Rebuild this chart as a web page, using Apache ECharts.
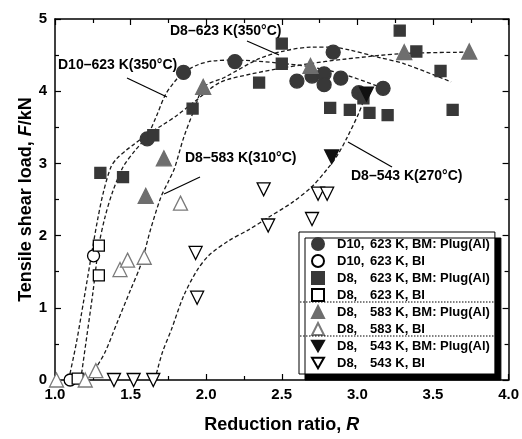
<!DOCTYPE html>
<html>
<head>
<meta charset="utf-8">
<script src="https://cdn.jsdelivr.net/npm/echarts@6/dist/echarts.min.js"></script>
<style>
  html, body { margin: 0; padding: 0; background: #fff; }
  #main { width: 522px; height: 439px; }
</style>
</head>
<body>
<div id="main"></div>
<script>
// measured points [R, F]
const d10BM = [[1.61,3.34],[1.85,4.26],[2.19,4.41],[2.60,4.14],[2.70,4.21],[2.78,4.24],[2.78,4.09],[2.84,4.54],[2.89,4.18],[3.01,3.98],[3.17,4.04]];
const d10BI = [[1.10,0],[1.255,1.72]];
const d8_623BM = [[1.30,2.87],[1.45,2.81],[1.65,3.39],[1.91,3.76],[2.35,4.12],[2.50,4.66],[2.50,4.38],[2.82,3.77],[2.95,3.74],[3.04,3.90],[3.08,3.70],[3.20,3.67],[3.28,4.84],[3.39,4.55],[3.55,4.28],[3.63,3.74]];
const d8_623BI = [[1.15,0.02],[1.29,1.86],[1.29,1.45]];
const d8_583BM = [[1.60,2.55],[1.72,3.07],[1.98,4.06],[2.69,4.35],[3.31,4.54],[3.74,4.55]];
const d8_583BI = [[1.01,0],[1.20,0],[1.27,0.13],[1.43,1.53],[1.48,1.66],[1.59,1.70],[1.83,2.45]];
const d8_543BM = [[2.83,3.09],[3.06,3.96]];
const d8_543BI = [[1.39,0],[1.52,0],[1.65,0],[1.93,1.76],[1.94,1.14],[2.38,2.64],[2.41,2.14],[2.70,2.23],[2.74,2.58],[2.80,2.58]];

// dashed guide curves
const curveKnee = [[1.09,0],[1.14,0.5],[1.19,1.1],[1.24,1.72],[1.28,2.2],[1.32,2.6],[1.37,2.95],[1.41,3.07],[1.47,3.18],[1.52,3.26],[1.61,3.40],[1.71,3.53],[1.81,3.67],[1.92,3.85],[2.09,4.12],[2.30,4.24],[2.50,4.32],[2.68,4.38],[2.90,4.44],[3.29,4.52],[3.71,4.54]];
const curveD10 = [[1.17,0],[1.21,0.6],[1.25,1.2],[1.29,1.86],[1.33,2.25],[1.38,2.6],[1.45,2.95],[1.53,3.18],[1.61,3.38],[1.67,3.65],[1.73,3.95],[1.79,4.13],[1.85,4.26],[1.95,4.37],[2.05,4.42],[2.20,4.43],[2.48,4.39],[2.68,4.34],[2.90,4.24],[3.16,4.05]];
const curve583 = [[1.26,0.13],[1.33,0.38],[1.41,0.79],[1.50,1.25],[1.57,1.61],[1.63,2.07],[1.70,2.53],[1.75,2.75],[1.79,2.93],[1.85,3.35],[1.92,3.74],[1.985,4.06],[2.12,4.19],[2.35,4.45],[2.52,4.56],[2.70,4.61],[2.83,4.61],[2.95,4.57],[3.14,4.47],[3.31,4.38],[3.62,4.13]];
const curve543 = [[1.66,0],[1.71,0.38],[1.77,0.70],[1.85,1.16],[1.94,1.52],[2.02,1.73],[2.15,1.93],[2.28,2.08],[2.41,2.25],[2.57,2.46],[2.70,2.68],[2.80,2.92],[2.87,3.12],[2.93,3.35],[3.01,3.70],[3.06,3.98]];

const xTicks = ['1.0','1.5','2.0','2.5','3.0','3.5','4.0'];
const yTicks = ['0','1','2','3','4','5'];

const FONT = 'Liberation Sans';
const INV_TRI = 'path://M0,0 L10,0 L5,8.66 Z';

function pointSeries(name, data, symbol, size, fill, stroke) {
  return {
    name: name,
    type: 'scatter',
    data: data,
    symbol: symbol,
    symbolSize: size,
    z: 5,
    itemStyle: { color: fill, borderColor: stroke, borderWidth: 1.3, opacity: 1 }
  };
}

function curveSeries(data) {
  return {
    type: 'line',
    data: data,
    smooth: 0.3,
    showSymbol: false,
    silent: true,
    z: 3,
    lineStyle: { color: '#1a1a1a', width: 1.3, type: [4, 2.5] }
  };
}

const chart = echarts.init(document.getElementById('main'), null, { renderer: 'canvas' });

const tickStyle = { inside: true, length: 6, lineStyle: { color: '#000', width: 1.2 } };
const minorStyle = { show: true, splitNumber: 2, length: 4, lineStyle: { color: '#000', width: 1.2 } };
const annFont = 'bold 14px "Liberation Sans"';

const option = {
  backgroundColor: '#fff',
  animation: false,
  grid: { left: 55, right: 11, top: 19, bottom: 54 },
  xAxis: [{
    type: 'value', min: 1, max: 4, interval: 0.5,
    name: 'Reduction ratio, {i|R}', nameLocation: 'middle', nameGap: 36, nameMoveOverlap: false,
    nameTextStyle: { fontFamily: FONT, fontWeight: 'bold', fontSize: 18, color: '#000',
      rich: { i: { fontFamily: FONT, fontWeight: 'bold', fontStyle: 'italic', fontSize: 18, color: '#000' } } },
    axisLine: { show: true, onZero: false, lineStyle: { color: '#000', width: 1.5 } },
    axisTick: tickStyle, minorTick: minorStyle,
    splitLine: { show: false },
    axisLabel: { margin: 7, fontFamily: FONT, fontWeight: 'bold', fontSize: 15, color: '#000',
      formatter: function (v) { return xTicks[Math.round((v - 1) / 0.5)]; } }
  }, {
    type: 'value', min: 1, max: 4, interval: 0.5, position: 'top',
    axisLine: { show: true, onZero: false, lineStyle: { color: '#000', width: 1.5 } },
    axisTick: tickStyle, minorTick: minorStyle,
    splitLine: { show: false }, axisLabel: { show: false }
  }],
  yAxis: [{
    type: 'value', min: 0, max: 5, interval: 1,
    name: '{n|Tensile shear load, }{i|F}{n|/kN}', nameLocation: 'middle', nameGap: 20, nameRotate: 90, nameMoveOverlap: false,
    nameTextStyle: {
      rich: {
        n: { fontFamily: FONT, fontWeight: 'bold', fontSize: 18, color: '#000' },
        i: { fontFamily: FONT, fontWeight: 'bold', fontStyle: 'italic', fontSize: 18, color: '#000' }
      }
    },
    axisLine: { show: true, onZero: false, lineStyle: { color: '#000', width: 1.5 } },
    axisTick: tickStyle, minorTick: minorStyle,
    splitLine: { show: false },
    axisLabel: { margin: 8, fontFamily: FONT, fontWeight: 'bold', fontSize: 15, color: '#000',
      formatter: function (v) { return yTicks[Math.round(v)]; } }
  }, {
    type: 'value', min: 0, max: 5, interval: 1, position: 'right',
    axisLine: { show: true, onZero: false, lineStyle: { color: '#000', width: 1.5 } },
    axisTick: tickStyle, minorTick: minorStyle,
    splitLine: { show: false }, axisLabel: { show: false }
  }],
  legend: {
    orient: 'vertical',
    left: 299, top: 232,
    padding: [5, 5, 4, 12],
    itemWidth: 12, itemHeight: 12, itemGap: 3,
    backgroundColor: '#fff',
    borderColor: '#000', borderWidth: 1,
    shadowColor: '#000', shadowBlur: 0, shadowOffsetX: 6, shadowOffsetY: 6,
    selectedMode: false,
    textStyle: {
      fontFamily: FONT, fontWeight: 'bold', fontSize: 13, color: '#000', lineHeight: 14,
      rich: {
        a: { width: 33, padding: [0, 0, 0, 8], fontFamily: FONT, fontWeight: 'bold', fontSize: 13, color: '#000', lineHeight: 14 },
        b: { fontFamily: FONT, fontWeight: 'bold', fontSize: 13, color: '#000', lineHeight: 14 }
      }
    },
    formatter: function (name) {
      const k = name.indexOf(', ');
      return '{a|' + name.slice(0, k + 1) + '}{b|' + name.slice(k + 2) + '}';
    },
    data: ['D10, 623 K, BM: Plug(Al)', 'D10, 623 K, BI', 'D8, 623 K, BM: Plug(Al)', 'D8, 623 K, BI',
           'D8, 583 K, BM: Plug(Al)', 'D8, 583 K, BI', 'D8, 543 K, BM: Plug(Al)', 'D8, 543 K, BI']
  },
  graphic: [
    { type: 'line', z: 100, shape: { x1: 300, y1: 302, x2: 500, y2: 302 }, style: { stroke: '#000', lineWidth: 1, lineDash: [1.5, 1.5] } },
    { type: 'line', z: 100, shape: { x1: 300, y1: 336, x2: 500, y2: 336 }, style: { stroke: '#000', lineWidth: 1, lineDash: [1.5, 1.5] } },
    // annotation labels and leaders
    { type: 'text', z: 100, left: 58, top: 58, style: { text: 'D10\u2013623 K(350\u00b0C)', font: annFont, fill: '#000' } },
    { type: 'line', z: 100, shape: { x1: 127, y1: 78, x2: 167, y2: 97 }, style: { stroke: '#000', lineWidth: 1.2 } },
    { type: 'text', z: 100, left: 170, top: 24, style: { text: 'D8\u2013623 K(350\u00b0C)', font: annFont, fill: '#000' } },
    { type: 'line', z: 100, shape: { x1: 247, y1: 41, x2: 279, y2: 55 }, style: { stroke: '#000', lineWidth: 1.2 } },
    { type: 'text', z: 100, left: 185, top: 151, style: { text: 'D8\u2013583 K(310\u00b0C)', font: annFont, fill: '#000' } },
    { type: 'line', z: 100, shape: { x1: 200, y1: 177, x2: 164, y2: 194 }, style: { stroke: '#000', lineWidth: 1.2 } },
    { type: 'text', z: 100, left: 351, top: 169, style: { text: 'D8\u2013543 K(270\u00b0C)', font: annFont, fill: '#000' } },
    { type: 'line', z: 100, shape: { x1: 348, y1: 142, x2: 392, y2: 167 }, style: { stroke: '#000', lineWidth: 1.2 } }
  ],
  series: [
    curveSeries(curveKnee),
    curveSeries(curveD10),
    curveSeries(curve583),
    curveSeries(curve543),
    pointSeries('D10, 623 K, BM: Plug(Al)', d10BM, 'circle', 14, '#383838', '#383838'),
    pointSeries('D10, 623 K, BI', d10BI, 'circle', 12, '#fff', '#000'),
    pointSeries('D8, 623 K, BM: Plug(Al)', d8_623BM, 'rect', 11, '#383838', '#383838'),
    pointSeries('D8, 623 K, BI', d8_623BI, 'rect', 11, '#fff', '#000'),
    pointSeries('D8, 583 K, BM: Plug(Al)', d8_583BM, 'triangle', 15, '#6e6e6e', '#6e6e6e'),
    pointSeries('D8, 583 K, BI', d8_583BI, 'triangle', 14, '#fff', '#7a7a7a'),
    pointSeries('D8, 543 K, BM: Plug(Al)', d8_543BM, INV_TRI, 14, '#111', '#111'),
    pointSeries('D8, 543 K, BI', d8_543BI, INV_TRI, 13, '#fff', '#000')
  ]
};

chart.setOption(option);
</script>
</body>
</html>
